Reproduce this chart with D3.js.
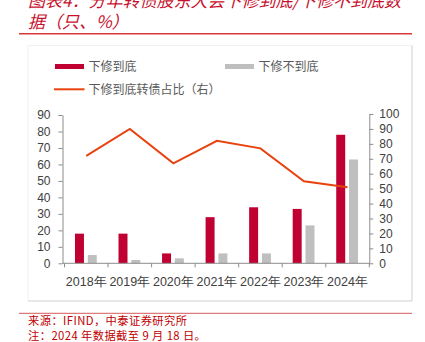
<!DOCTYPE html>
<html><head><meta charset="utf-8">
<script src="https://cdn.jsdelivr.net/npm/d3@7"></script>
<style>html,body{margin:0;padding:0;background:#fff;}svg{display:block;}</style>
</head><body>
<script>
const years = ["2018年","2019年","2020年","2021年","2022年","2023年","2024年"];
const reachBottom = [18, 18, 6, 28, 34, 33, 78];
const notReachBottom = [5, 2, 3, 6, 6, 23, 63];
const reachShare = [72, 90, 67, 82, 77, 55, 51];
const leftTicks = [0,10,20,30,40,50,60,70,80,90];
const rightTicks = [0,10,20,30,40,50,60,70,80,90,100];
const titleLines = ["图表4：分年转债股东大会下修到底/下修不到底数", "据（只、%）"];
const legendLabels = ["下修到底", "下修不到底", "下修到底转债占比（右）"];
const notes = ["来源：IFIND，中泰证券研究所", "注：2024 年数据截至 9 月 18 日。"];

const W = 425, H = 342;
const red = "#c00030", gray = "#bfbfbf", lineC = "#e8420e", axisC = "#8c8c8c", txt = "#404040";
const cjk = "'Noto Sans CJK SC', sans-serif";
const num = "'Liberation Sans', Arial, sans-serif";

const svg = d3.select("body").append("svg").attr("width", W).attr("height", H);

// title
svg.selectAll("text.title").data(titleLines).join("text")
  .attr("x", 28).attr("y", (d,i) => 7 + i*20.5)
  .attr("font-family", cjk).attr("font-size", 17).attr("font-style", "italic")
  .attr("fill", "#c8102e").text(d => d);
svg.append("line").attr("x1", 19).attr("x2", 412).attr("y1", 33.7).attr("y2", 33.7)
  .attr("stroke", "#d9383a").attr("stroke-width", 1.5);

// chart frame
svg.append("line").attr("x1", 28).attr("x2", 412).attr("y1", 45.5).attr("y2", 45.5).attr("stroke", "#f0f0f0");
svg.append("line").attr("x1", 28).attr("x2", 28).attr("y1", 45.5).attr("y2", 301).attr("stroke", "#f0f0f0");
svg.append("line").attr("x1", 412).attr("x2", 412).attr("y1", 45.5).attr("y2", 301).attr("stroke", "#cfcfcf");
svg.append("line").attr("x1", 28).attr("x2", 412).attr("y1", 301).attr("y2", 301).attr("stroke", "#d0d0d0");

// scales
const x = d3.scaleBand().domain(years).range([64.5, 369.3]).padding(0);
const yL = d3.scaleLinear().domain([0, 90]).range([263.3, 115]);
const yR = d3.scaleLinear().domain([0, 100]).range([263.3, 114]);
const sub = d3.scaleBand().domain(["a","b"]).range([-11.3, 10.5]).paddingInner(0.3);

// bars
const g = svg.append("g");
g.selectAll("rect.r").data(reachBottom).join("rect")
  .attr("x", (d,i) => x(years[i]) + x.bandwidth()/2 + sub("a"))
  .attr("width", sub.bandwidth())
  .attr("y", d => yL(d)).attr("height", d => yL(0) - yL(d)).attr("fill", red);
g.selectAll("rect.g").data(notReachBottom).join("rect")
  .attr("x", (d,i) => x(years[i]) + x.bandwidth()/2 + sub("b"))
  .attr("width", sub.bandwidth())
  .attr("y", d => yL(d)).attr("height", d => yL(0) - yL(d)).attr("fill", gray);

// line
const line = d3.line().x((d,i) => x(years[i]) + x.bandwidth()/2).y(d => yR(d));
g.append("path").datum(reachShare).attr("d", line).attr("fill", "none")
  .attr("stroke", lineC).attr("stroke-width", 2);

// axes
function styleAxis(sel) {
  sel.selectAll("path.domain").attr("stroke", axisC);
  sel.selectAll(".tick line").attr("stroke", axisC);
  sel.selectAll("text").attr("font-family", num).attr("font-size", 12).attr("fill", txt);
}
const axL = svg.append("g").attr("transform", "translate(62.5,0)")
  .call(d3.axisLeft(yL).tickValues(leftTicks).tickSize(4).tickSizeOuter(0).tickPadding(8));
styleAxis(axL);
const axR = svg.append("g").attr("transform", "translate(369.3,0)")
  .call(d3.axisRight(yR).tickValues(rightTicks).tickSize(4).tickSizeOuter(0).tickPadding(6));
styleAxis(axR);

// x axis: ticks at band boundaries
const axX = svg.append("g");
axX.append("line").attr("x1", 62.5).attr("x2", 369.3).attr("y1", yL(0)).attr("y2", yL(0)).attr("stroke", axisC);
const bounds = years.map(y => x(y)).concat([x.range()[1]]);
axX.selectAll("line.t").data(bounds).join("line")
  .attr("x1", d => d).attr("x2", d => d).attr("y1", yL(0)).attr("y2", yL(0) + 4).attr("stroke", axisC);
axX.selectAll("text").data(years).join("text")
  .attr("x", d => x(d) + x.bandwidth()/2).attr("y", 285.5).attr("text-anchor", "middle")
  .attr("font-family", num).attr("font-size", 12.5).attr("fill", txt).text(d => d);

// legend
const lg = svg.append("g");
lg.append("rect").attr("x", 55).attr("y", 64).attr("width", 29).attr("height", 5).attr("fill", red);
lg.append("rect").attr("x", 225).attr("y", 64).attr("width", 29).attr("height", 5).attr("fill", gray);
lg.append("line").attr("x1", 54).attr("x2", 84.5).attr("y1", 89.3).attr("y2", 89.3).attr("stroke", lineC).attr("stroke-width", 2);
const lpos = [[88.5, 70.5], [258.5, 70.5], [88.5, 93.5]];
lg.selectAll("text").data(legendLabels).join("text")
  .attr("x", (d,i) => lpos[i][0]).attr("y", (d,i) => lpos[i][1])
  .attr("font-family", cjk).attr("font-size", 12).attr("fill", "#595959").text(d => d);

// footer
svg.append("line").attr("x1", 19).attr("x2", 412).attr("y1", 313.3).attr("y2", 313.3)
  .attr("stroke", "#e07b7b").attr("stroke-width", 1.2);
svg.selectAll("text.note").data(notes).join("text")
  .attr("x", 28).attr("y", (d,i) => 324.5 + i*15.5)
  .attr("font-family", cjk).attr("font-size", 11.3).attr("letter-spacing", 0.4)
  .attr("fill", "#c00000").text(d => d);
</script>
</body></html>
